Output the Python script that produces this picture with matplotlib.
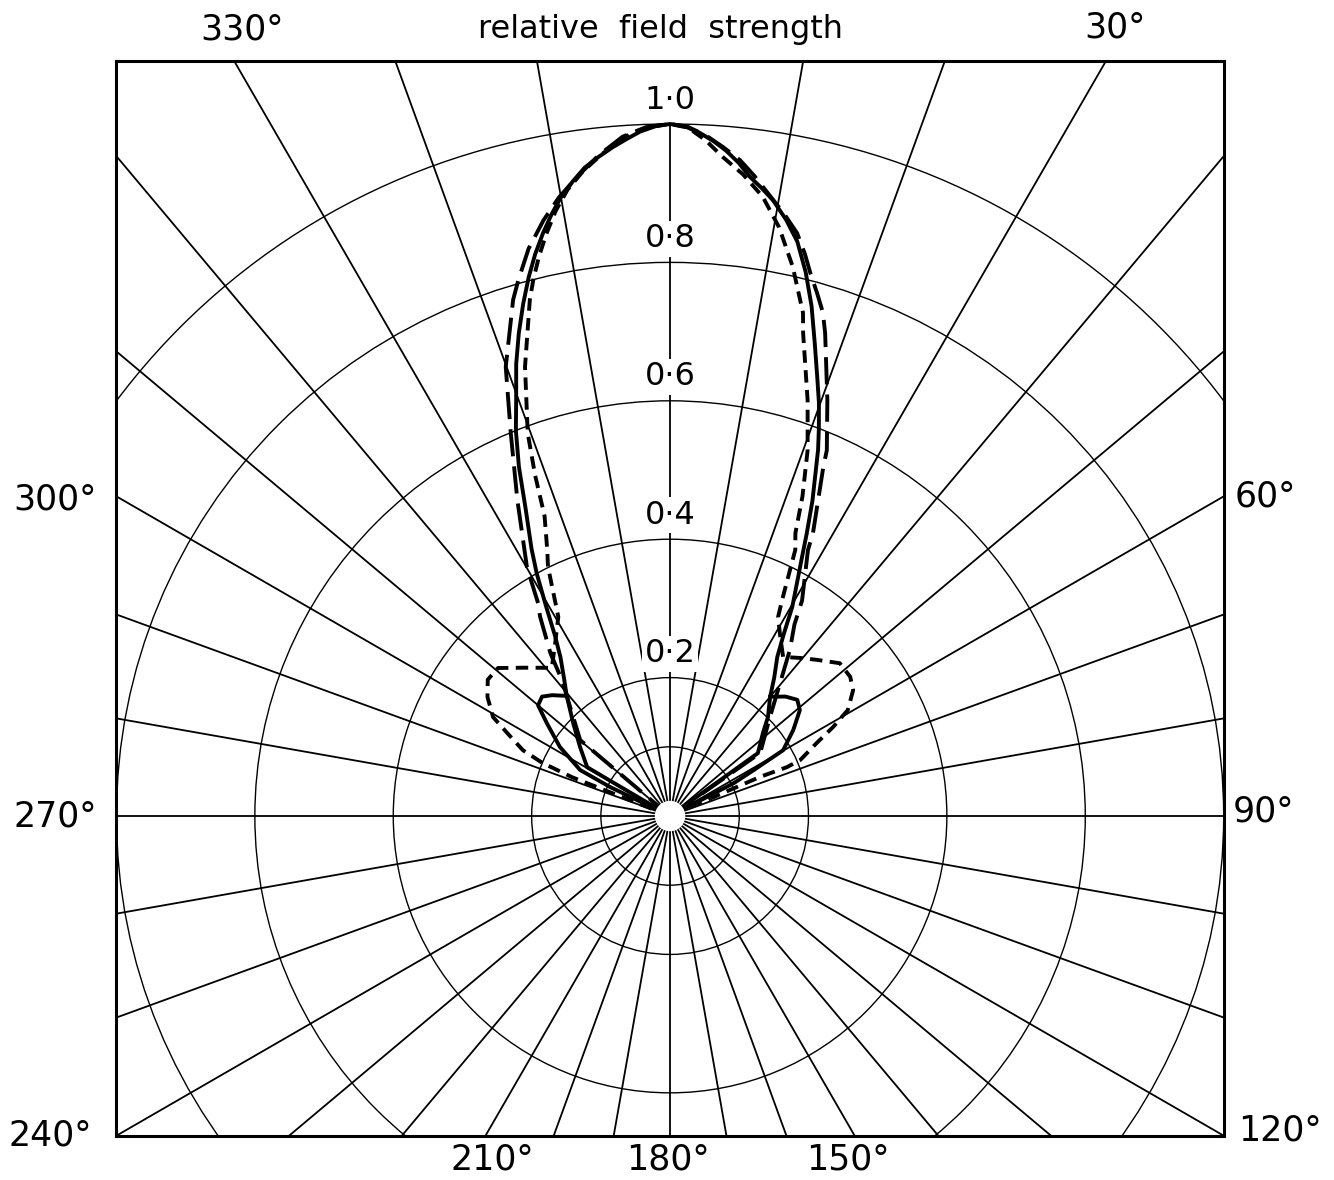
import numpy as np
import matplotlib.pyplot as plt
from matplotlib.patches import Circle

# angles in degrees, clockwise from the top (0 = up, 90 = right)
# solid curve: main lobe (left null -> top -> right null)
solid_theta = [-65, -59.5, -52.5, -46.2, -40.7, -37.5, -34.6, -32.5, -30.6, -28.8, -27.4,
               -25.2, -23.4, -21.8, -20.3, -18.8, -17.4, -16.0, -14.7, -13.5, -12.3, -11.1,
               -10.0, -8.7, -7.5, -6.2, -4.9, -3.7, -2.5, -1.2, 0, 1.2, 2.5, 3.7, 4.8, 6.0,
               7.1, 8.3, 9.5, 11.0, 12.5, 14.0, 15.5, 17.0, 18.5, 19.8, 21.0, 22.0,
               24.3, 25.8, 27.0, 28.5, 30.3, 32.0, 34.0, 37.0, 40.0, 44.7, 48.2, 54.4, 63]
solid_r = [0.0, 0.139, 0.164, 0.194, 0.229, 0.252, 0.279, 0.31, 0.352, 0.40, 0.435,
           0.49, 0.55, 0.60, 0.641, 0.69, 0.731, 0.77, 0.805, 0.835, 0.862, 0.887,
           0.908, 0.928, 0.945, 0.958, 0.970, 0.980, 0.99, 0.997, 1.0, 0.997, 0.988, 0.977, 0.965, 0.949,
           0.931, 0.917, 0.902, 0.878, 0.85, 0.81, 0.765, 0.715, 0.67, 0.635, 0.60, 0.571,
           0.50, 0.454, 0.42, 0.385, 0.35, 0.31, 0.277, 0.25, 0.225, 0.201, 0.18, 0.156, 0.0]
# solid curve: side lobes
solid_left_theta = [-40.7, -44.3, -47.0, -50.0, -53.0, -57.9, -62.9, -64.2, -65]
solid_left_r = [0.229, 0.244, 0.253, 0.249, 0.223, 0.188, 0.146, 0.096, 0.0]
solid_right_theta = [40.0, 44.0, 47.6, 50.8, 55.1, 59.8, 61.2, 62.7, 63]
solid_right_r = [0.225, 0.240, 0.249, 0.242, 0.217, 0.189, 0.139, 0.104, 0.0]

# short dashed curve (side lobes included)
short_theta = [-69, -68.4, -67.4, -65.9, -63.0, -60.8, -56.9, -53.2, -49.3, -44.4, -38.6,
               -33.6, -29.3, -26.1, -24.8, -22.7, -21.6, -20.4, -17.9, -15.2, -14.3, -13.2,
               -12.0, -10.7, -9.3, -7.7, -6.0, -4.5, -3.0, -1.5, 0, 1.5, 3.0, 4.6, 6.5,
               8.5, 10.5, 12.6, 14.8, 15.4, 18.3, 20.6, 22.5,
               23.9, 25.2, 27.4, 28.5, 31.6, 35.4, 39.5, 43.3, 48.0, 52.3, 55.5, 59.2, 61.4,
               63.5, 66.7, 67.3, 66.5, 67]
short_r = [0.0, 0.152, 0.200, 0.233, 0.264, 0.293, 0.315, 0.329, 0.328, 0.300, 0.274,
           0.300, 0.330, 0.401, 0.423, 0.470, 0.53, 0.590, 0.682, 0.773, 0.800, 0.83,
           0.86, 0.89, 0.917, 0.94, 0.96, 0.977, 0.99, 0.997, 1.0, 0.995, 0.978, 0.955, 0.933,
           0.905, 0.865, 0.813, 0.752, 0.724, 0.633, 0.565, 0.50,
           0.447, 0.425, 0.352, 0.327, 0.304, 0.282, 0.296, 0.310, 0.330, 0.329, 0.321, 0.299, 0.268,
           0.237, 0.205, 0.183, 0.142, 0.0]

# long dashed curve
long_theta = [-55, -49.8, -38.5, -36.3, -33.1, -31.8, -29.9, -25.8, -22.6, -20.1, -16.9,
              -15.8, -14.0, -12.0, -10.2, -8.3, -6.2, -4.0, -2.0, 0, 1.5, 3.0, 4.5, 6.1,
              7.5, 9.0, 10.7, 12.3, 13.5, 14.5, 15.7, 16.9, 17.8, 20.7,
              23.2, 23.7, 26.8, 27.4, 31.5, 33.0, 35.8, 45.3, 55.0, 58]
long_r = [0.0, 0.170, 0.251, 0.292, 0.344, 0.362, 0.415, 0.507, 0.599, 0.691, 0.780,
          0.805, 0.845, 0.880, 0.908, 0.933, 0.96, 0.984, 0.996, 1.0, 0.996, 0.985, 0.97, 0.953,
          0.933, 0.91, 0.886, 0.862, 0.835, 0.81, 0.785, 0.760, 0.733, 0.643,
          0.575, 0.551, 0.458, 0.433, 0.365, 0.33, 0.296, 0.203, 0.159, 0.0]

RINGS = [0.1, 0.2, 0.4, 0.6, 0.8, 1.0]
RING_LABELS = {1.0: '1·0', 0.8: '0·8', 0.6: '0·6', 0.4: '0·4', 0.2: '0·2'}
SPOKES = np.arange(0, 360, 10)

ANGLE_LABELS = ['330°', '30°', '300°', '60°', '270°', '90°', '240°', '120°',
                '210°', '180°', '150°']
ANGLE_LABEL_POS = [(-0.618, 1.136), (0.643, 1.139), (-0.889, 0.457), (0.860, 0.461),
                   (-0.889, 0.0), (0.857, 0.006), (-0.896, -0.461), (0.881, -0.454),
                   (-0.257, -0.497), (-0.003, -0.497), (0.257, -0.497)]


def to_xy(theta, r):
    t = np.radians(theta)
    r = np.asarray(r, dtype=float)
    return r * np.sin(t), r * np.cos(t)


fig = plt.figure(figsize=(13.34, 11.8), dpi=100)
ax = fig.add_axes([0.0873, 0.0375, 0.830, 0.9108])
ax.set_xlim(-0.8, 0.8)
ax.set_ylim(-0.462, 1.091)
ax.set_xticks([])
ax.set_yticks([])
for s in ax.spines.values():
    s.set_linewidth(2.2)
    s.set_zorder(10)

# grid: rings and spokes
for r in RINGS:
    ax.add_patch(Circle((0, 0), r, fill=False, ec='k', lw=1.0, zorder=3))
for a in SPOKES:
    r_end = 1.0 if a == 0 else 2.0
    x, y = to_xy([a, a], [0, r_end])
    ax.plot(x, y, color='k', lw=1.3, zorder=1)

for r, lab in RING_LABELS.items():
    ax.text(0, r + 0.012, lab, ha='center', va='bottom', fontsize=23, zorder=2,
            bbox=dict(boxstyle='square,pad=0.08', fc='white', ec='none'))

# curves
lw = 2.8
x, y = to_xy(solid_theta, solid_r)
ax.plot(x, y, color='k', lw=lw, zorder=4, solid_joinstyle='round')
x, y = to_xy(solid_left_theta, solid_left_r)
ax.plot(x, y, color='k', lw=lw, zorder=4, solid_joinstyle='round')
x, y = to_xy(solid_right_theta, solid_right_r)
ax.plot(x, y, color='k', lw=lw, zorder=4, solid_joinstyle='round')

x, y = to_xy(short_theta, short_r)
ax.plot(x, y, color='k', lw=lw, ls=(0, (3.2, 1.9)), zorder=4)

x, y = to_xy(long_theta, long_r)
ax.plot(x, y, color='k', lw=lw, ls=(0, (7, 2.6)), zorder=4)

ax.add_patch(Circle((0, 0), 0.022, fc='white', ec='none', zorder=6))

# labels round the frame
for lab, (x, y) in zip(ANGLE_LABELS, ANGLE_LABEL_POS):
    ax.text(x, y, lab, ha='center', va='center', fontsize=25)
ax.text(-0.014, 1.136, 'relative  field  strength', ha='center', va='center', fontsize=23)

fig.savefig('out.png', dpi=100)
